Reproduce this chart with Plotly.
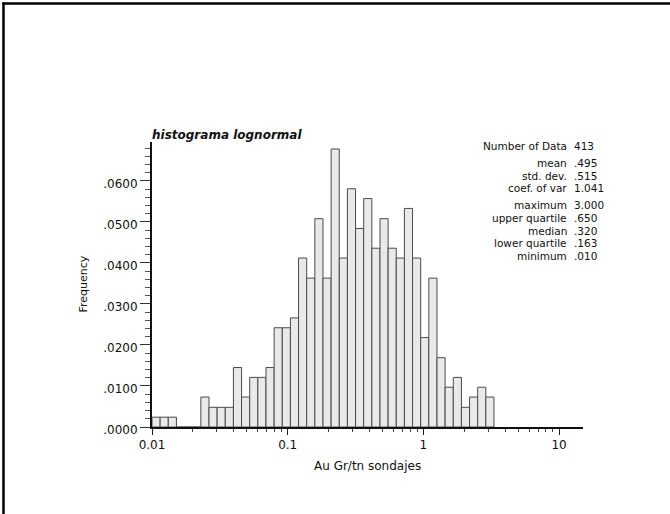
import plotly.graph_objects as go

# ---- data ----
BIN_LOG_START = -2.0      # log10 of first bin's lower edge (0.01)
BIN_LOG_WIDTH = 0.06      # bin width in log10 units
frequencies = [0.0024, 0.0024, 0.0024, 0.0, 0.0, 0.0, 0.0073, 0.0048, 0.0048, 0.0048,
               0.0145, 0.0073, 0.0121, 0.0121, 0.0145, 0.0242, 0.0242, 0.0266, 0.0412, 0.0363,
               0.0508, 0.0363, 0.0678, 0.0412, 0.0581, 0.0484, 0.0557, 0.0436, 0.0508, 0.0436,
               0.0412, 0.0533, 0.0412, 0.0218, 0.0363, 0.0169, 0.0097, 0.0121, 0.0048, 0.0073,
               0.0097, 0.0073]

y_tickvals = [0.0, 0.01, 0.02, 0.03, 0.04, 0.05, 0.06]
y_ticktext = [".0000", ".0100", ".0200", ".0300", ".0400", ".0500", ".0600"]
x_tickvals = [0.01, 0.1, 1, 10]
x_ticktext = ["0.01", "0.1", "1", "10"]
x_minor_vals = [m * d for d in (0.01, 0.1, 1, 10) for m in range(2, 10) if m * d <= 15]

stat_labels = ["Number of Data", "mean", "std. dev.", "coef. of var", "maximum",
               "upper quartile", "median", "lower quartile", "minimum"]
stat_values = ["413", ".495", ".515", "1.041", "3.000", ".650", ".320", ".163", ".010"]

title_text = "histograma lognormal"
x_title = "Au Gr/tn sondajes"
y_title = "Frequency"

# ---- layout geometry (pixels) ----
W, H = 670, 514
ML, MR, MT, MB = 152, 87, 142, 87
PW, PH = W - ML - MR, H - MT - MB


def px(x):
    return (x - ML) / PW


def py(y):
    return (H - MB - y) / PH


lo = [10 ** (BIN_LOG_START + BIN_LOG_WIDTH * i) for i in range(len(frequencies))]
hi = [10 ** (BIN_LOG_START + BIN_LOG_WIDTH * (i + 1)) for i in range(len(frequencies))]
widths = [h - l for l, h in zip(lo, hi)]

FONT = "DejaVu Sans, Liberation Sans, Arial, sans-serif"

fig = go.Figure(go.Bar(
    x=lo, y=frequencies, width=widths, offset=0,
    marker=dict(color="#e9e9e9", line=dict(color="#4a4a4a", width=1)),
    hoverinfo="skip",
))

fig.update_layout(
    width=W, height=H,
    margin=dict(l=ML, r=MR, t=MT, b=MB, pad=0),
    paper_bgcolor="white", plot_bgcolor="white",
    showlegend=False,
    font=dict(family=FONT, size=12, color="#111"),
    bargap=0,
)

fig.update_xaxes(
    type="log", range=[-2, 1.176],
    tickmode="array", tickvals=x_tickvals, ticktext=x_ticktext,
    ticks="outside", ticklen=6, tickwidth=1, tickcolor="#222",
    showline=True, linecolor="#111", linewidth=2,
    showgrid=False, zeroline=False,
    tickfont=dict(size=12),
    minor=dict(tickmode="array", tickvals=x_minor_vals, ticks="outside",
               ticklen=3, tickwidth=1, tickcolor="#444", showgrid=False),
)
fig.update_yaxes(
    range=[0, 0.0695],
    tickmode="array", tickvals=y_tickvals, ticktext=y_ticktext,
    ticks="outside", ticklen=10, tickwidth=1, tickcolor="#333",
    showline=True, linecolor="#111", linewidth=2,
    showgrid=False, zeroline=False,
    tickfont=dict(size=12),
    ticklabelshift=3,
    minor=dict(tick0=0, dtick=0.002, ticks="outside", ticklen=5,
               tickwidth=1, tickcolor="#555", showgrid=False),
)

ann = []
ann.append(dict(x=px(151), y=py(135), xref="paper", yref="paper", xanchor="left",
                yanchor="middle", showarrow=False, borderpad=0,
                text="<b><i>" + title_text + "</i></b>", font=dict(size=12, color="#111")))
ann.append(dict(x=px(367.5), y=py(466), xref="paper", yref="paper", xanchor="center",
                yanchor="middle", showarrow=False, borderpad=0, text=x_title,
                font=dict(size=12)))
ann.append(dict(x=px(83), y=py(284.5), xref="paper", yref="paper", xanchor="center",
                yanchor="middle", showarrow=False, borderpad=0, text=y_title, textangle=-90,
                font=dict(size=11)))

stat_y = [146, 163, 175.5, 188, 205, 218, 230.5, 243, 256]
for lab, val, yy in zip(stat_labels, stat_values, stat_y):
    ann.append(dict(x=px(568), y=py(yy), xref="paper", yref="paper", xanchor="right",
                    yanchor="middle", showarrow=False, borderpad=0, text=lab,
                    font=dict(size=10.5)))
    ann.append(dict(x=px(573), y=py(yy), xref="paper", yref="paper", xanchor="left",
                    yanchor="middle", showarrow=False, borderpad=0, text=val,
                    font=dict(size=10.5)))
fig.update_layout(annotations=ann)

# page frame lines (left and top edges)
fig.update_layout(shapes=[
    dict(type="line", xref="paper", yref="paper", x0=px(3.5), x1=px(3.5),
         y0=py(2.5), y1=py(H), line=dict(color="black", width=2.5)),
    dict(type="line", xref="paper", yref="paper", x0=px(2.2), x1=px(W),
         y0=py(3.5), y1=py(3.5), line=dict(color="black", width=2.5)),
])

fig.write_html(
    "out.html",
    config={"displayModeBar": False, "staticPlot": True},
    post_script="document.body.style.margin='0px';document.body.style.overflow='hidden';",
)
